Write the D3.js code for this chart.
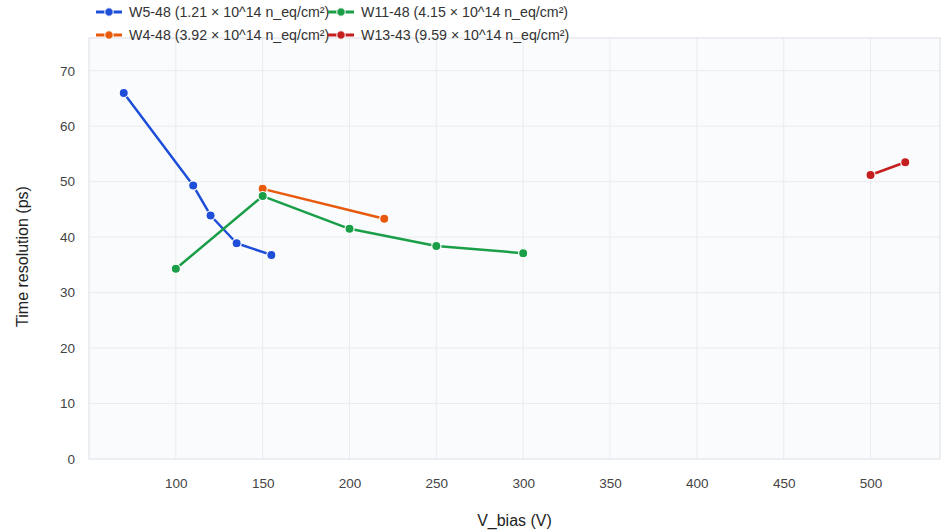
<!DOCTYPE html>
<html>
<head>
<meta charset="utf-8">
<script src="https://cdn.jsdelivr.net/npm/d3@7/dist/d3.min.js"></script>
<style>
  html, body { margin: 0; padding: 0; background: #ffffff; }
  svg { display: block; font-family: "Liberation Sans", Arial, Helvetica, sans-serif; }
</style>
</head>
<body>
<svg id="chart" width="942" height="531"></svg>
<script>
// Time resolution vs. bias voltage for irradiated sensors
const seriesNames = [
  "W5-48 (1.21 × 10^14 n_eq/cm²)",
  "W4-48 (3.92 × 10^14 n_eq/cm²)",
  "W11-48 (4.15 × 10^14 n_eq/cm²)",
  "W13-43 (9.59 × 10^14 n_eq/cm²)"
];
const seriesColors = ["#1f4ed8", "#e8590c", "#1a9e48", "#c41e1e"];

const w5_48_vbias = [70, 110, 120, 135, 155];
const w5_48_res   = [66.0, 49.3, 43.9, 38.9, 36.8];
const w4_48_vbias = [150, 220];
const w4_48_res   = [48.7, 43.3];
const w11_48_vbias = [100, 150, 200, 250, 300];
const w11_48_res   = [34.3, 47.4, 41.5, 38.4, 37.1];
const w13_43_vbias = [500, 520];
const w13_43_res   = [51.2, 53.5];

const xTicks = [100, 150, 200, 250, 300, 350, 400, 450, 500];
const yTicks = [0, 10, 20, 30, 40, 50, 60, 70];

const series = [
  { name: seriesNames[0], color: seriesColors[0], x: w5_48_vbias, y: w5_48_res },
  { name: seriesNames[1], color: seriesColors[1], x: w4_48_vbias, y: w4_48_res },
  { name: seriesNames[2], color: seriesColors[2], x: w11_48_vbias, y: w11_48_res },
  { name: seriesNames[3], color: seriesColors[3], x: w13_43_vbias, y: w13_43_res }
].map(s => ({ ...s, points: s.x.map((v, i) => ({ x: v, y: s.y[i] })) }));

const svg = d3.select("#chart");
const margin = { left: 89, right: 2, top: 38, bottom: 72 };
const W = 942, H = 531;
const innerW = W - margin.left - margin.right;
const innerH = H - margin.top - margin.bottom;

const x = d3.scaleLinear().domain([50, 540]).range([0, innerW]);
const y = d3.scaleLinear().domain([0, 75.9]).range([innerH, 0]);

const g = svg.append("g").attr("transform", `translate(${margin.left},${margin.top})`);

// plot background
g.append("rect").attr("width", innerW).attr("height", innerH)
  .attr("fill", "#fafbfc");

// gridlines
g.append("g").selectAll("line").data(xTicks).join("line")
  .attr("x1", d => x(d)).attr("x2", d => x(d))
  .attr("y1", 0).attr("y2", innerH)
  .attr("stroke", "#eaebef").attr("stroke-width", 1);
g.append("g").selectAll("line").data(yTicks.filter(d => d > 0)).join("line")
  .attr("x1", 0).attr("x2", innerW)
  .attr("y1", d => y(d)).attr("y2", d => y(d))
  .attr("stroke", "#eaebef").attr("stroke-width", 1);

// plot frame
g.append("rect").attr("width", innerW).attr("height", innerH)
  .attr("fill", "none").attr("stroke", "#dde0e6").attr("stroke-width", 1);

// axes
const xAxis = g.append("g").attr("transform", `translate(0,${innerH})`)
  .call(d3.axisBottom(x).tickValues(xTicks).tickSize(0).tickPadding(19));
const yAxis = g.append("g")
  .call(d3.axisLeft(y).tickValues(yTicks).tickSize(0).tickPadding(14));
[xAxis, yAxis].forEach(a => {
  a.select(".domain").remove();
  a.selectAll("text").attr("fill", "#444").style("font-size", "13.5px")
    .style("font-family", "\"Liberation Sans\", Arial, sans-serif");
});

// axis titles
svg.append("text")
  .attr("x", margin.left + innerW / 2).attr("y", 526)
  .attr("text-anchor", "middle").attr("fill", "#222")
  .style("font-size", "16px").text("V_bias (V)");
svg.append("text")
  .attr("transform", `translate(28,${margin.top + innerH / 2 + 8}) rotate(-90)`)
  .attr("text-anchor", "middle").attr("fill", "#222")
  .style("font-size", "16px").text("Time resolution (ps)");

// series lines and markers
const line = d3.line().x(d => x(d.x)).y(d => y(d.y));
const sg = g.append("g").selectAll("g").data(series).join("g");
sg.append("path")
  .attr("d", d => line(d.points))
  .attr("fill", "none").attr("stroke", d => d.color)
  .attr("stroke-width", 2.5).attr("stroke-linejoin", "round");
sg.selectAll("circle").data(d => d.points.map(p => ({ ...p, color: d.color }))).join("circle")
  .attr("cx", d => x(d.x)).attr("cy", d => y(d.y)).attr("r", 4.6)
  .attr("fill", d => d.color).attr("stroke", "#fff").attr("stroke-width", 1.2);

// legend: two columns, two rows
const legendPos = [
  { x: 96, y: 12 }, { x: 96, y: 35 }, { x: 328, y: 12 }, { x: 328, y: 35 }
];
const lg = svg.append("g").selectAll("g").data(series).join("g")
  .attr("transform", (d, i) => `translate(${legendPos[i].x},${legendPos[i].y})`);
lg.append("line").attr("x1", 0).attr("x2", 26).attr("y1", 0).attr("y2", 0)
  .attr("stroke", d => d.color).attr("stroke-width", 3);
lg.append("circle").attr("cx", 13).attr("cy", 0).attr("r", 4.2)
  .attr("fill", d => d.color).attr("stroke", "#fff").attr("stroke-width", 1);
lg.append("text").attr("x", 33).attr("y", 0).attr("dy", "0.35em")
  .attr("fill", "#333").style("font-size", "14.2px").text(d => d.name);
</script>
</body>
</html>
